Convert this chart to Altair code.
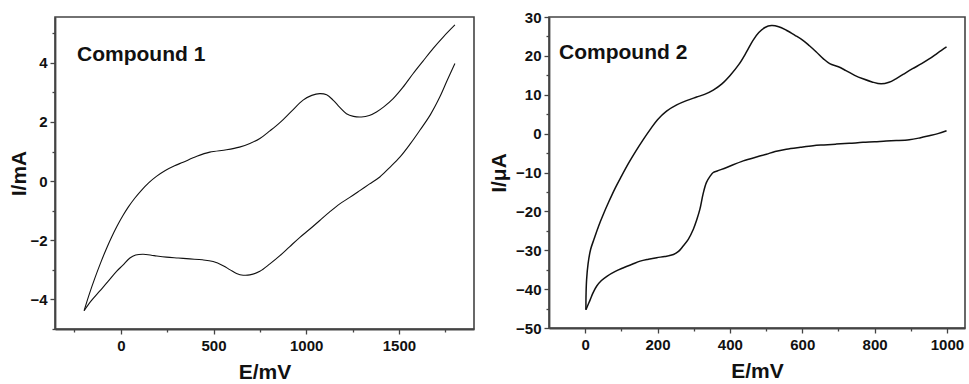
import altair as alt
import pandas as pd

# ---------------- Compound 1 (I in mA) ----------------
c1_fwd_E = [-198, -170, -140, -110, -80, -50, -20, 10, 40, 75, 110, 150, 192, 240, 290, 336, 410,
            480, 570, 640, 696, 750, 804, 858, 920, 983, 1030, 1073, 1110, 1145, 1180, 1217, 1255,
            1298, 1340, 1379, 1420, 1469, 1520, 1577, 1630, 1685, 1740, 1802]
c1_fwd_I = [-4.38, -3.82, -3.28, -2.78, -2.32, -1.90, -1.52, -1.18, -0.88, -0.58, -0.32, -0.06,
            0.16, 0.36, 0.52, 0.64, 0.84, 0.98, 1.06, 1.15, 1.27, 1.44, 1.70, 1.98, 2.36, 2.74,
            2.90, 2.96, 2.92, 2.74, 2.50, 2.28, 2.19, 2.17, 2.22, 2.34, 2.52, 2.79, 3.16, 3.64,
            4.06, 4.49, 4.88, 5.28]
c1_rev_E = [1802, 1760, 1721, 1670, 1613, 1560, 1505, 1450, 1397, 1340, 1289, 1235, 1181, 1125,
            1073, 1020, 966, 910, 858, 804, 750, 696, 660, 624, 590, 552, 498, 440, 372, 310, 246,
            180, 120, 80, 49, 10, -23, -70, -113, -160, -198]
c1_rev_I = [3.98, 3.40, 2.85, 2.25, 1.72, 1.25, 0.81, 0.46, 0.14, -0.10, -0.32, -0.55, -0.77,
            -1.05, -1.33, -1.62, -1.90, -2.22, -2.52, -2.80, -3.05, -3.17, -3.18, -3.12, -3.00,
            -2.86, -2.72, -2.66, -2.63, -2.60, -2.57, -2.52, -2.47, -2.50, -2.60, -2.85, -3.05,
            -3.40, -3.71, -4.05, -4.38]

# ---------------- Compound 2 (I in uA) ----------------
c2_fwd_E = [2, 2.5, 4, 8, 15, 25, 37, 50, 65, 82, 100, 120, 140, 160, 180, 200, 225, 253, 280,
            308, 330, 354, 378, 400, 425, 446, 464, 480, 497, 515, 535, 556, 580, 602, 620, 639,
            658, 676, 700, 721, 745, 768, 793, 818, 840, 859, 880, 905, 930, 951, 975, 999]
c2_fwd_I = [-45.3, -41.0, -37.5, -33.5, -29.8, -27.0, -23.8, -20.8, -17.6, -14.2, -11.0, -7.6,
            -4.5, -1.6, 1.1, 3.6, 5.8, 7.4, 8.5, 9.4, 10.1, 11.2, 12.8, 14.9, 17.8, 21.0, 24.0,
            26.0, 27.3, 27.8, 27.5, 26.6, 25.3, 24.0, 22.6, 21.0, 19.3, 18.0, 17.2, 16.2, 15.0,
            14.1, 13.3, 12.8, 13.2, 14.1, 15.3, 16.7, 18.0, 19.2, 20.8, 22.3]
c2_rev_E = [999, 975, 951, 925, 896, 860, 832, 800, 768, 730, 694, 660, 630, 595, 556, 525, 501,
            478, 437, 391, 365, 354, 345, 335, 326, 317, 308, 299, 285, 271, 258, 244, 220, 198,
            175, 152, 130, 106, 82, 60, 45, 32, 22, 14, 7, 2]
c2_rev_I = [0.74, 0.0, -0.55, -1.1, -1.58, -1.8, -1.9, -2.1, -2.25, -2.5, -2.7, -2.9, -3.1, -3.5,
            -4.0, -4.6, -5.3, -5.9, -7.0, -8.7, -9.6, -10.0, -11.0, -12.6, -15.5, -19.5, -22.3,
            -24.6, -27.2, -28.9, -30.3, -31.1, -31.6, -31.9, -32.3, -32.8, -33.6, -34.5, -35.5,
            -36.7, -37.8, -39.2, -40.9, -42.7, -44.2, -45.3]

c1_x_ticks = [-250, 0, 250, 500, 750, 1000, 1250, 1500, 1750]
c1_y_ticks = [-5, -4, -3, -2, -1, 0, 1, 2, 3, 4, 5]
c2_x_ticks = [0, 100, 200, 300, 400, 500, 600, 700, 800, 900, 1000]
c2_y_ticks = [-50, -45, -40, -35, -30, -25, -20, -15, -10, -5, 0, 5, 10, 15, 20, 25, 30]

FONT = "Liberation Sans"
INK = "#111111"


def loop_df(fE, fI, rE, rI):
    E = fE + rE
    I = fI + rI
    seg = ["fwd"] * len(fE) + ["rev"] * len(rE)
    return pd.DataFrame({"E": E, "I": I, "seg": seg, "idx": list(range(len(E)))})


def axis(title, values, major, tpad, lpad):
    test = f"datum.value % {major} === 0"
    return alt.Axis(
        title=title,
        values=values,
        format="d",
        grid=False,
        labelExpr=f"{test} ? datum.label : ''",
        tickSize={"condition": {"test": test, "value": 5}, "value": 3},
        labelOverlap=False,
        labelFlush=False,
        titlePadding=tpad,
        labelPadding=lpad,
    )


def panel(df, xdom, xvals, xmajor, ydom, yvals, ymajor, ytitle, ytpad, label, lx, ly, w, h, sw):
    line = alt.Chart(df).mark_line(
        interpolate="catmull-rom", color=INK, strokeWidth=sw
    ).encode(
        x=alt.X("E:Q", scale=alt.Scale(domain=xdom, nice=False, zero=False),
                axis=axis("E/mV", xvals, xmajor, 8, 4)),
        y=alt.Y("I:Q", scale=alt.Scale(domain=ydom, nice=False, zero=False),
                axis=axis(ytitle, yvals, ymajor, ytpad, 3)),
        detail="seg:N",
        order=alt.Order("idx:Q"),
    )
    txt = alt.Chart(pd.DataFrame({"t": [label]})).mark_text(
        align="left", baseline="alphabetic", font=FONT, fontSize=21,
        fontWeight="bold", color=INK
    ).encode(text="t:N", x=alt.value(lx), y=alt.value(ly))
    return alt.layer(line, txt).properties(width=w, height=h)


left = panel(loop_df(c1_fwd_E, c1_fwd_I, c1_rev_E, c1_rev_I),
             [-355, 1905], c1_x_ticks, 500, [-5, 5.55], c1_y_ticks, 2,
             "I/mA", 0, "Compound 1", 22, 44, 419, 312, 1.1)
right = panel(loop_df(c2_fwd_E, c2_fwd_I, c2_rev_E, c2_rev_I),
              [-100, 1050], c2_x_ticks, 200, [-50, 30], c2_y_ticks, 10,
              "I/μA", 6, "Compound 2", 10, 42, 416, 311, 1.5)

chart = alt.hconcat(left, right, spacing=12).properties(
    padding={"left": 8, "top": 9, "right": 0, "bottom": 0},
    background="white",
).configure_view(
    stroke="#444444", strokeWidth=1.6
).configure_axis(
    domainColor="#444444", domainWidth=1.8, tickColor="#444444", tickWidth=1.3,
    labelFont=FONT, labelFontSize=15, labelFontWeight="bold", labelColor=INK,
    titleFont=FONT, titleFontSize=21, titleFontWeight="bold", titleColor=INK,
)

chart.save("out.html", embed_options={"renderer": "svg", "actions": False})
